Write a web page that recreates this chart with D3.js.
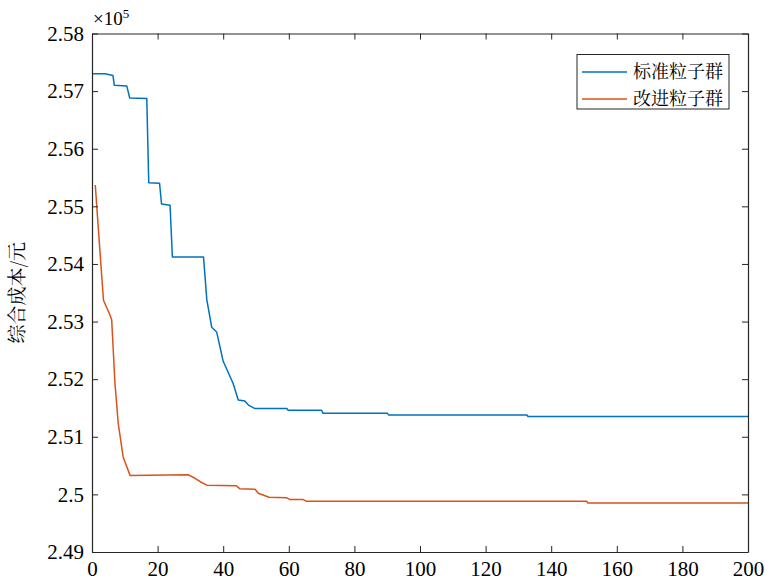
<!DOCTYPE html>
<html><head><meta charset="utf-8">
<script src="https://cdn.jsdelivr.net/npm/d3@7"></script>
<style>html,body{margin:0;padding:0;background:#fff;}svg{display:block;}</style>
</head><body>
<svg id="chart" width="766" height="583"></svg>
<script>
// Data (values in units of 1e5 yuan)
const seriesNames = ["标准粒子群", "改进粒子群"];
const standardIter = [0,4,6.4,6.8,10.6,11.5,16.7,17.3,20.6,21.2,23.8,24.5,34,35,36.5,38,40,43,44.6,46.6,47.7,49.7,59.4,59.8,70,70.4,90,90.4,132.5,133,200];
const standardCost = [2.5730,2.5730,2.5727,2.5710,2.5709,2.5688,2.5687,2.5541,2.5540,2.5504,2.5502,2.5412,2.5412,2.5338,2.5290,2.5282,2.5231,2.5193,2.5164,2.5162,2.5155,2.5149,2.5149,2.5146,2.5146,2.5141,2.5141,2.5138,2.5138,2.5135,2.5135];
const improvedIter = [1,2.4,3.5,5.5,6,7,8,9.5,11.6,29.4,31.4,33,35,44,45,49.7,50.7,54,59.4,60.4,64.4,65.4,150.8,151.2,200];
const improvedCost = [2.5537,2.5424,2.5337,2.5311,2.5303,2.5193,2.5123,2.5065,2.5033,2.5034,2.5028,2.5022,2.5016,2.5015,2.5010,2.5009,2.5002,2.4995,2.4994,2.4991,2.4991,2.4988,2.4988,2.4985,2.4985];
const xTicks = [0,20,40,60,80,100,120,140,160,180,200];
const yTicks = [2.49,2.5,2.51,2.52,2.53,2.54,2.55,2.56,2.57,2.58];
const yLabel = "综合成本/元";
const colors = ["#0072BD", "#D95319"];

const svg = d3.select("#chart");
const L = 92, R = 748, T = 33.5, B = 552;
const x = d3.scaleLinear().domain([0,200]).range([L,R]);
const y = d3.scaleLinear().domain([2.49,2.58]).range([B,T]);
const serif = '"Liberation Serif"';
const cjk = '"Noto Serif CJK SC"';
const axisColor = "#262626";

const series = [
  {name: seriesNames[0], pts: standardIter.map((d,i)=>[d, standardCost[i]]), color: colors[0]},
  {name: seriesNames[1], pts: improvedIter.map((d,i)=>[d, improvedCost[i]]), color: colors[1]}
];
const line = d3.line().x(d=>x(d[0])).y(d=>y(d[1]));
series.forEach(s => {
  svg.append("path").attr("d", line(s.pts)).attr("fill","none")
    .attr("stroke", s.color).attr("stroke-width",1.5).attr("stroke-linejoin","round");
});

// Axes
function styleAxis(g){
  g.selectAll("path.domain").attr("stroke",axisColor).attr("stroke-width",1.2);
  g.selectAll(".tick line").attr("stroke",axisColor).attr("stroke-width",1);
  g.selectAll(".tick text").attr("fill","#000").style("font-family",serif).style("font-size","21px");
}
const gx = svg.append("g").attr("transform",`translate(0,${B})`)
  .call(d3.axisBottom(x).tickValues(xTicks).tickSizeInner(-6).tickSizeOuter(0).tickPadding(9).tickFormat(d3.format("d")));
styleAxis(gx);
gx.selectAll(".tick text").attr("dy","0.71em");
const gy = svg.append("g").attr("transform",`translate(${L},0)`)
  .call(d3.axisLeft(y).tickValues(yTicks).tickSizeInner(-6).tickSizeOuter(0).tickPadding(8).tickFormat(d=>String(+d.toFixed(2))));
styleAxis(gy);
const gt = svg.append("g").attr("transform",`translate(0,${T})`)
  .call(d3.axisTop(x).tickValues(xTicks).tickSizeInner(-6).tickSizeOuter(0).tickFormat(""));
styleAxis(gt);
const gr = svg.append("g").attr("transform",`translate(${R},0)`)
  .call(d3.axisRight(y).tickValues(yTicks).tickSizeInner(-6).tickSizeOuter(0).tickFormat(""));
styleAxis(gr);

// exponent label
const ex = svg.append("text").attr("x",L+1).attr("y",T-9)
  .style("font-family",serif).style("font-size","19px").attr("fill","#000");
ex.append("tspan").text("×10");
ex.append("tspan").attr("dy",-7).style("font-size","13px").text("5");

// y label
svg.append("text").attr("transform",`translate(24,${(T+B)/2}) rotate(-90)`)
  .attr("text-anchor","middle").style("font-family",cjk).style("font-size","19px")
  .attr("fill","#000").text(yLabel);

// Legend
const lg = svg.append("g");
lg.append("rect").attr("x",577).attr("y",54.5).attr("width",152).attr("height",54.5)
  .attr("fill","#fff").attr("stroke",axisColor).attr("stroke-width",1);
series.forEach((s,i) => {
  const yy = 72 + i*27;
  lg.append("line").attr("x1",582).attr("x2",627).attr("y1",yy).attr("y2",yy).attr("stroke",s.color).attr("stroke-width",1.5);
  lg.append("text").attr("x",633).attr("y",yy).attr("dy","0.35em").style("font-family",cjk).style("font-size","18px")
    .attr("fill","#000").text(s.name);
});
</script>
</body></html>
